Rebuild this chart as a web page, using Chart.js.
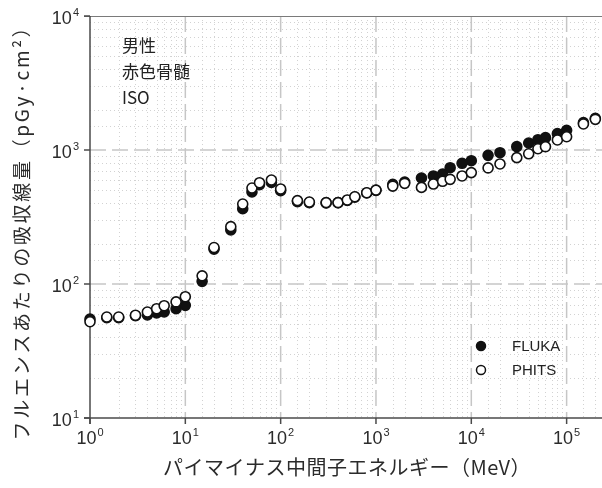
<!DOCTYPE html>
<html>
<head>
<meta charset="utf-8">
<script src="https://cdn.jsdelivr.net/npm/chart.js@4.4.1/dist/chart.umd.min.js"></script>
<style>
  html, body { margin: 0; padding: 0; background: #fff; }
  canvas { display: block; }
</style>
</head>
<body>
<canvas id="c" width="602" height="488"></canvas>
<script>
// Pion (π−) energy in MeV
const energies = [1, 1.5, 2, 3, 4, 5, 6, 8, 10, 15, 20, 30, 40, 50, 60, 80, 100,
  150, 200, 300, 400, 500, 600, 800, 1000, 1500, 2000, 3000, 4000, 5000, 6000, 8000,
  10000, 15000, 20000, 30000, 40000, 50000, 60000, 80000, 100000, 150000, 200000];

// Absorbed dose per fluence, pGy·cm²
const flukaDose = [54.8, 56, 56, 58, 58.7, 60.8, 61.8, 65.4, 69.3, 104.7, 182, 253, 365,
  486, 552, 573, 497, 412, 405, 403, 405, 420, 445, 478, 500, 555, 576, 618, 640, 662,
  738, 796, 832, 912, 955, 1059, 1128, 1194, 1236, 1324, 1403, 1600, 1725];

const phitsDose = [52.3, 56.7, 56.7, 58.4, 61.8, 65.4, 68.9, 73.5, 80.4, 115, 187, 268,
  395, 520, 570, 597, 512, 419, 409, 405, 405, 424, 448, 480, 502, 538, 564, 526, 557,
  584, 604, 640, 678, 735, 787, 877, 937, 1023, 1059, 1189, 1257, 1563, 1694];

const xExponents = [0, 1, 2, 3, 4, 5];
const yExponents = [1, 2, 3, 4];

const annotationLines = ['男性', '赤色骨髄', 'ISO'];
const xTitle = 'パイマイナス中間子エネルギー（MeV）';
const yTitle = 'フルエンスあたりの吸収線量（pGy·cm²）';
const seriesNames = ['FLUKA', 'PHITS'];

const JP = '"Noto Sans CJK JP", "Noto Sans", sans-serif';
const LAT = '"Liberation Sans", Arial, sans-serif';
const TEXT = '#2b2b2b';

const isDecade = v => Math.abs(Math.log10(v) - Math.round(Math.log10(v))) < 1e-6;

function powerLabel(ctx, exp, x, y, align) {
  ctx.font = `18px ${LAT}`;
  const wb = ctx.measureText('10').width;
  ctx.font = `11px ${LAT}`;
  const we = ctx.measureText(String(exp)).width;
  const total = wb + 1 + we;
  const left = align === 'center' ? x - total / 2 : x - total;
  ctx.textAlign = 'left';
  ctx.textBaseline = 'alphabetic';
  ctx.font = `18px ${LAT}`;
  ctx.fillText('10', left, y);
  ctx.font = `11px ${LAT}`;
  ctx.fillText(String(exp), left + wb + 1, y - 8);
}

function seg(ctx, x1, y1, x2, y2) {
  ctx.beginPath();
  ctx.moveTo(x1, y1);
  ctx.lineTo(x2, y2);
  ctx.stroke();
}

// Grid, axes and tick labels, drawn under the points
const frame = {
  id: 'frame',
  beforeDatasetsDraw(chart) {
    const { ctx, chartArea: a, scales: { x, y } } = chart;
    ctx.save();

    // minor dotted grid
    ctx.lineWidth = 1;
    ctx.strokeStyle = '#d2d2d2';
    ctx.setLineDash([1, 3]);
    x.ticks.forEach(t => {
      if (isDecade(t.value) || t.value >= x.max) return;
      const px = Math.round(x.getPixelForValue(t.value)) + 0.5;
      seg(ctx, px, a.top, px, a.bottom);
    });
    y.ticks.forEach(t => {
      if (isDecade(t.value)) return;
      const py = Math.round(y.getPixelForValue(t.value)) + 0.5;
      seg(ctx, a.left, py, a.right, py);
    });

    // major dashed grid
    ctx.lineWidth = 1.5;
    ctx.strokeStyle = '#c6c6c6';
    ctx.setLineDash([16, 6]);
    xExponents.slice(1).forEach(e => {
      const px = x.getPixelForValue(Math.pow(10, e));
      seg(ctx, px, a.top, px, a.bottom);
    });
    yExponents.slice(1, -1).forEach(e => {
      const py = y.getPixelForValue(Math.pow(10, e));
      seg(ctx, a.left, py, a.right, py);
    });
    ctx.setLineDash([]);

    // top frame line
    ctx.lineWidth = 1;
    ctx.strokeStyle = '#7a7a7a';
    seg(ctx, a.left - 6, a.top + 0.5, a.right, a.top + 0.5);

    // axes
    ctx.lineWidth = 1.5;
    ctx.strokeStyle = '#4a4a4a';
    seg(ctx, a.left, a.top, a.left, a.bottom + 6);
    seg(ctx, a.left - 6, a.bottom, a.right, a.bottom);

    // decade tick marks and labels
    ctx.fillStyle = TEXT;
    xExponents.forEach(e => {
      const px = x.getPixelForValue(Math.pow(10, e));
      seg(ctx, px, a.bottom, px, a.bottom + 6);
      powerLabel(ctx, e, px, a.bottom + 26, 'center');
    });
    yExponents.forEach(e => {
      const py = y.getPixelForValue(Math.pow(10, e));
      seg(ctx, a.left - 6, py, a.left, py);
      powerLabel(ctx, e, a.left - 11, py + 8, 'right');
    });

    // axis titles
    ctx.textAlign = 'center';
    ctx.textBaseline = 'middle';
    ctx.save();
    ctx.font = `20px ${JP}`;
    if ('letterSpacing' in ctx) ctx.letterSpacing = '0.5px';
    ctx.fillText(xTitle, 347, 467);
    ctx.restore();
    ctx.save();
    ctx.font = `19px ${JP}`;
    ctx.translate(22, 228);
    ctx.rotate(-Math.PI / 2);
    if ('letterSpacing' in ctx) ctx.letterSpacing = '2.7px';
    ctx.fillText(yTitle, 0, 0);
    ctx.restore();

    ctx.restore();
  },
  afterDraw(chart) {
    const { ctx } = chart;
    ctx.save();
    // annotation block
    ctx.fillStyle = '#222';
    ctx.font = `17px ${JP}`;
    ctx.textAlign = 'left';
    ctx.textBaseline = 'middle';
    annotationLines.forEach((s, i) => ctx.fillText(s, 122, 46 + i * 26));

    // legend
    chart.data.datasets.forEach((ds, i) => {
      const cy = 346 + i * 24;
      ctx.beginPath();
      ctx.arc(481, cy, 4.5, 0, Math.PI * 2);
      ctx.fillStyle = ds.backgroundColor;
      ctx.fill();
      ctx.lineWidth = 1.5;
      ctx.strokeStyle = ds.borderColor;
      ctx.stroke();
      ctx.fillStyle = '#222';
      ctx.font = `15px ${LAT}`;
      ctx.fillText(ds.label, 512, cy + 1);
    });
    ctx.restore();
  }
};

const toPoints = vals => energies.map((e, i) => ({ x: e, y: vals[i] }));

new Chart(document.getElementById('c'), {
  type: 'scatter',
  data: {
    datasets: [
      {
        label: seriesNames[0],
        data: toPoints(flukaDose),
        backgroundColor: '#111',
        borderColor: '#111',
        pointRadius: 5,
        borderWidth: 1.6,
        order: 2,
        clip: false
      },
      {
        label: seriesNames[1],
        data: toPoints(phitsDose),
        backgroundColor: '#fff',
        borderColor: '#111',
        pointRadius: 5,
        borderWidth: 1.6,
        order: 1,
        clip: false
      }
    ]
  },
  options: {
    responsive: false,
    animation: false,
    devicePixelRatio: 1,
    layout: { autoPadding: false, padding: { top: 16, left: 0, right: 0, bottom: 0 } },
    plugins: { legend: { display: false }, tooltip: { enabled: false } },
    scales: {
      x: {
        type: 'logarithmic',
        min: 1,
        max: 235000,
        grid: { display: false },
        border: { display: false },
        ticks: { display: false },
        afterFit: s => { s.height = 70; }
      },
      y: {
        type: 'logarithmic',
        min: 10,
        max: 10000,
        grid: { display: false },
        border: { display: false },
        ticks: { display: false },
        afterFit: s => { s.width = 90; }
      }
    }
  },
  plugins: [frame]
});
</script>
</body>
</html>
